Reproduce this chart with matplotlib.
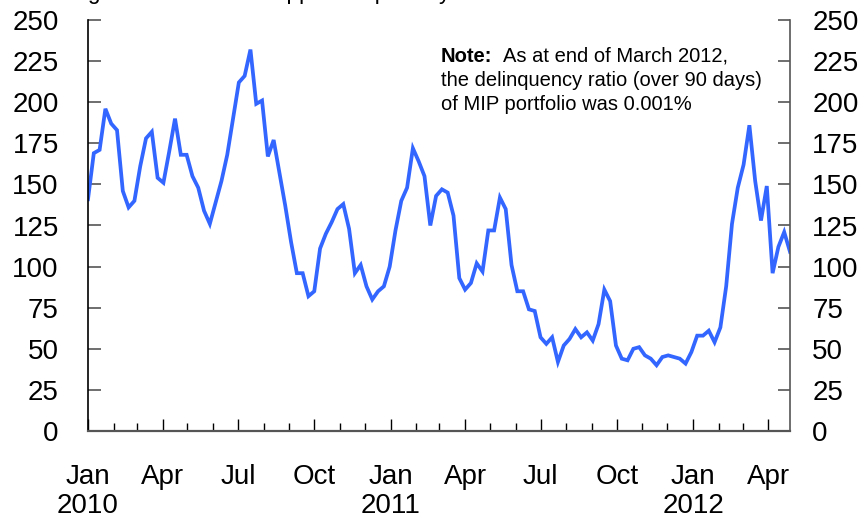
#!/usr/bin/env python3
"""Weekly MIP approvals, Jan 2010 - Apr 2012, redrawn as out.png."""

import matplotlib
matplotlib.use("Agg")
import matplotlib.pyplot as plt
import matplotlib.dates as mdates
import pandas as pd

plt.rcParams["font.family"] = ["Liberation Sans", "DejaVu Sans"]

# weekly values (Fridays)
approvals = [
    141, 169, 171, 196, 187, 183, 146, 136, 140, 161,
    178, 182, 154, 151, 170, 190, 168, 168, 155, 148,
    134, 126, 139, 152, 168, 190, 212, 216, 232, 199,
    201, 167, 177, 157, 137, 115, 96, 96, 82, 85,
    111, 120, 127, 135, 138, 123, 96, 101, 88, 80,
    85, 88, 100, 122, 140, 148, 172, 164, 155, 125,
    143, 147, 145, 131, 93, 86, 90, 102, 97, 122,
    122, 142, 135, 101, 85, 85, 74, 73, 57, 53,
    57, 42, 52, 56, 62, 57, 60, 55, 65, 86,
    79, 52, 44, 43, 50, 51, 46, 44, 40, 45,
    46, 45, 44, 41, 48, 58, 58, 61, 54, 63,
    88, 126, 148, 162, 186, 152, 128, 149, 96, 112,
    121, 109,
]
first_week = "2010-01-01"
quarter_labels = ["Jan\n2010", "Apr", "Jul", "Oct", "Jan\n2011",
                  "Apr", "Jul", "Oct", "Jan\n2012", "Apr"]
y_ticks = list(range(0, 251, 25))

title = "Average number of MIP approved per day"
note_head = "Note:"
note_lines = ["As at end of March 2012,",
              "the delinquency ratio (over 90 days)",
              "of MIP portfolio was 0.001%"]

LINE_COLOR = "#3366ff"
W, H = 865, 524

dates = pd.date_range(first_week, periods=len(approvals), freq="7D")
quarters = pd.date_range(first_week, dates[-1], freq="QS")

fig = plt.figure(figsize=(W / 100, H / 100), dpi=100)
ax = fig.add_axes([88 / W, 93 / H, 702 / W, 411 / H])
ax.plot(dates, approvals, color=LINE_COLOR, lw=2.7, solid_joinstyle="miter")

ax.set_xlim(dates[0], dates[-1])
ax.set_ylim(0, 250)
ax.set_xticks(quarters)
ax.set_xticklabels(quarter_labels, linespacing=1.15)
ax.xaxis.set_minor_locator(mdates.MonthLocator())
ax.set_yticks(y_ticks)

ax.tick_params(axis="x", which="major", direction="in", length=9,
               width=1, pad=24, labelsize=20)
ax.tick_params(axis="x", which="minor", direction="in", length=6, width=1)
ax.tick_params(axis="y", direction="in", length=9, width=1.2,
               color="#555555", pad=21, labelsize=20)

# right hand scale is the same as the left one
ax2 = ax.twinx()
ax2.set_ylim(0, 250)
ax2.set_yticks(y_ticks)
ax2.tick_params(axis="y", direction="in", length=9, width=1.2,
                color="#555555", pad=16, labelsize=20)

for a in (ax, ax2):
    a.spines["top"].set_visible(False)
ax.spines["right"].set_visible(False)
ax2.spines["left"].set_visible(False)
ax2.spines["bottom"].set_visible(False)
ax.spines["left"].set_linewidth(1.2)
ax2.spines["right"].set_linewidth(1.2)
ax2.spines["right"].set_color("#555555")
ax.spines["bottom"].set_linewidth(1.6)
ax.spines["bottom"].set_color("#555555")

# title sits above the picture, only its descenders show
fig.text(29 / W, 1 + 0.5 / H, title, fontsize=16.3, va="baseline", ha="left")

fig.text(441 / W, 1 - 62 / H, note_head, fontsize=14.5, fontweight="bold",
         va="baseline", ha="left")
fig.text(503 / W, 1 - 62 / H, note_lines[0], fontsize=14.5,
         va="baseline", ha="left")
for k, line in enumerate(note_lines[1:], start=1):
    fig.text(441 / W, 1 - (62 + 24 * k) / H, line, fontsize=14.5,
             va="baseline", ha="left")

fig.savefig("out.png", dpi=100)
plt.close(fig)
